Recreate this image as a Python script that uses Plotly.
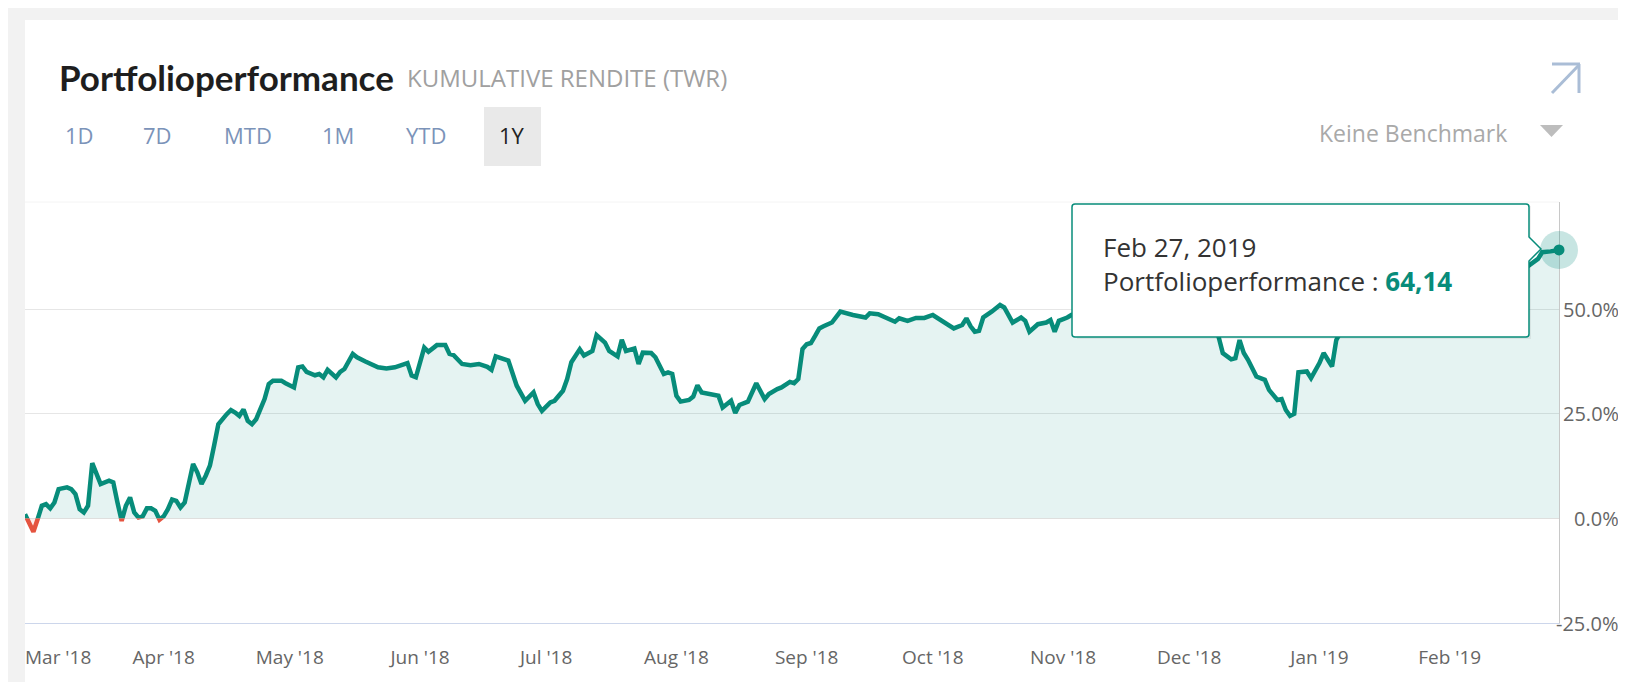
import plotly.graph_objects as go
from datetime import datetime

# ---------------- data ----------------
dates = [
    "2018-02-27", "2018-03-01", "2018-03-02", "2018-03-03", "2018-03-04", "2018-03-05", "2018-03-06",
    "2018-03-07", "2018-03-09", "2018-03-10", "2018-03-11", "2018-03-12", "2018-03-13", "2018-03-14",
    "2018-03-15", "2018-03-16", "2018-03-17", "2018-03-19", "2018-03-20", "2018-03-21", "2018-03-22",
    "2018-03-23", "2018-03-24", "2018-03-25", "2018-03-26", "2018-03-27", "2018-03-28", "2018-03-29",
    "2018-03-30", "2018-03-31", "2018-04-01", "2018-04-02", "2018-04-03", "2018-04-04", "2018-04-05",
    "2018-04-06", "2018-04-08", "2018-04-09", "2018-04-10", "2018-04-11", "2018-04-12", "2018-04-13",
    "2018-04-14", "2018-04-16", "2018-04-17", "2018-04-18", "2018-04-19", "2018-04-20", "2018-04-21",
    "2018-04-22", "2018-04-23", "2018-04-25", "2018-04-26", "2018-04-27", "2018-04-29", "2018-04-30",
    "2018-05-02", "2018-05-03", "2018-05-04", "2018-05-05", "2018-05-07", "2018-05-08", "2018-05-09",
    "2018-05-10", "2018-05-12", "2018-05-13", "2018-05-14", "2018-05-16", "2018-05-17", "2018-05-19",
    "2018-05-20", "2018-05-22", "2018-05-24", "2018-05-26", "2018-05-29", "2018-05-30", "2018-05-31",
    "2018-06-02", "2018-06-03", "2018-06-05", "2018-06-07", "2018-06-08", "2018-06-09", "2018-06-11",
    "2018-06-13", "2018-06-15", "2018-06-17", "2018-06-18", "2018-06-19", "2018-06-21", "2018-06-22",
    "2018-06-24", "2018-06-25", "2018-06-26", "2018-06-28", "2018-06-29", "2018-06-30", "2018-07-02",
    "2018-07-03", "2018-07-05", "2018-07-06", "2018-07-07", "2018-07-09", "2018-07-10", "2018-07-12",
    "2018-07-13", "2018-07-15", "2018-07-16", "2018-07-18", "2018-07-19", "2018-07-20", "2018-07-22",
    "2018-07-23", "2018-07-24", "2018-07-26", "2018-07-27", "2018-07-29", "2018-07-30", "2018-07-31",
    "2018-08-01", "2018-08-02", "2018-08-04", "2018-08-05", "2018-08-06", "2018-08-07", "2018-08-09",
    "2018-08-11", "2018-08-12", "2018-08-14", "2018-08-15", "2018-08-16", "2018-08-18", "2018-08-19",
    "2018-08-20", "2018-08-22", "2018-08-23", "2018-08-25", "2018-08-26", "2018-08-28", "2018-08-29",
    "2018-08-30", "2018-08-31", "2018-09-01", "2018-09-02", "2018-09-03", "2018-09-04", "2018-09-05",
    "2018-09-07", "2018-09-09", "2018-09-11", "2018-09-12", "2018-09-15", "2018-09-16", "2018-09-18",
    "2018-09-20", "2018-09-22", "2018-09-23", "2018-09-25", "2018-09-27", "2018-09-29", "2018-10-01",
    "2018-10-02", "2018-10-04", "2018-10-06", "2018-10-08", "2018-10-09", "2018-10-10", "2018-10-11",
    "2018-10-12", "2018-10-13", "2018-10-15", "2018-10-17", "2018-10-18", "2018-10-19", "2018-10-20",
    "2018-10-22", "2018-10-23", "2018-10-24", "2018-10-26", "2018-10-28", "2018-10-29", "2018-10-30",
    "2018-10-31", "2018-11-02", "2018-11-03", "2018-11-05", "2018-11-08", "2018-11-11", "2018-11-14",
    "2018-11-17", "2018-11-20", "2018-11-23", "2018-11-26", "2018-11-29", "2018-12-02", "2018-12-05",
    "2018-12-07", "2018-12-08", "2018-12-09", "2018-12-11", "2018-12-12", "2018-12-13", "2018-12-14",
    "2018-12-15", "2018-12-17", "2018-12-19", "2018-12-20", "2018-12-22", "2018-12-23", "2018-12-24",
    "2018-12-25", "2018-12-26", "2018-12-27", "2018-12-29", "2018-12-30", "2019-01-01", "2019-01-02",
    "2019-01-04", "2019-01-05", "2019-01-06", "2019-01-08", "2019-01-11", "2019-01-14", "2019-01-17",
    "2019-01-20", "2019-01-23", "2019-01-26", "2019-01-29", "2019-02-01", "2019-02-04", "2019-02-07",
    "2019-02-10", "2019-02-13", "2019-02-16", "2019-02-19", "2019-02-22", "2019-02-23", "2019-02-25",
    "2019-02-27",
]
values = [
    1.0, -3.2, -0.2, 3.0, 3.4, 2.4, 3.8,
    7.0, 7.4, 7.0, 5.8, 2.2, 1.4, 3.0,
    13.2, 11.0, 8.2, 9.0, 8.6, 3.8, -0.6,
    3.0, 5.0, 1.4, 0.2, 0.5, 2.4, 2.4,
    1.8, -0.3, 0.5, 2.2, 4.5, 4.2, 2.6,
    3.8, 13.0, 11.0, 8.2, 10.2, 12.6, 17.4,
    22.5, 24.9, 25.9, 25.3, 24.5, 26.0, 23.3,
    22.5, 23.7, 28.5, 32.1, 32.9, 32.9, 32.3,
    31.3, 36.1, 36.3, 35.0, 34.2, 34.5, 33.7,
    35.5, 33.7, 35.0, 35.7, 39.3, 38.5, 37.5,
    37.1, 36.1, 35.8, 36.1, 37.1, 34.1, 33.7,
    40.8, 39.8, 41.4, 41.4, 39.3, 39.0, 36.9,
    36.6, 36.9, 36.2, 35.5, 38.7, 38.1, 37.7,
    31.7, 29.7, 28.1, 30.1, 27.3, 25.7, 27.7,
    28.1, 30.5, 33.3, 37.3, 40.4, 38.9, 40.0,
    43.8, 42.0, 40.0, 38.7, 42.7, 40.0, 40.6,
    36.9, 39.6, 39.5, 38.5, 34.5, 34.9, 34.5,
    29.3, 27.9, 28.3, 29.1, 31.8, 30.1, 29.7,
    29.3, 26.5, 28.1, 25.2, 27.1, 27.9, 30.1,
    32.3, 28.5, 29.7, 30.9, 31.3, 32.6, 32.3,
    33.3, 40.5, 41.6, 41.9, 43.6, 45.4, 45.9,
    46.8, 49.4, 48.8, 48.6, 48.0, 49.0, 48.8,
    48.0, 47.0, 47.8, 47.2, 47.9, 47.9, 48.6,
    48.0, 46.8, 45.4, 46.2, 47.8, 45.9, 44.6,
    44.8, 48.0, 49.4, 51.0, 50.4, 48.4, 46.8,
    48.0, 47.2, 44.6, 46.4, 46.8, 47.4, 44.6,
    47.2, 48.0, 48.6, 49.0, 50.5, 49.2, 48.0,
    50.0, 51.5, 50.2, 48.5, 49.8, 50.6, 47.5,
    45.5, 43.4, 39.5, 38.0, 38.3, 42.6, 39.5,
    37.9, 33.9, 33.1, 30.7, 28.3, 28.5, 25.9,
    24.5, 25.0, 34.9, 35.1, 33.5, 37.1, 39.5,
    36.3, 42.6, 44.5, 46.5, 48.0, 47.0, 50.0,
    51.5, 50.5, 53.0, 54.5, 53.5, 56.0, 57.5,
    57.0, 59.0, 60.5, 59.8, 62.0, 63.6, 63.8,
    64.14,
]
month_ticks = ["2018-03-01", "2018-04-01", "2018-05-01", "2018-06-01", "2018-07-01", "2018-08-01",
               "2018-09-01", "2018-10-01", "2018-11-01", "2018-12-01", "2019-01-01", "2019-02-01"]
y_ticks = [-25, 0, 25, 50]
range_buttons = ["1D", "7D", "MTD", "1M", "YTD", "1Y"]
active_button = "1Y"
title_text = "Portfolioperformance"
subtitle_text = "KUMULATIVE RENDITE (TWR)"
benchmark_text = "Keine Benchmark"
series_name = "Portfolioperformance"

# ---------------- layout geometry / style ----------------
W, H = 1626, 682
OFF = 8                      # page (body) offset of the figure
PL, PR, PT, PB = 25, 1559, 202, 623   # desired plot box on the page
L, R, T, B = PL - OFF, W + OFF - PR, PT - OFF, H + OFF - PB
Y_MIN, Y_MAX = -25, 75.6
split = (0 - Y_MIN) / (Y_MAX - Y_MIN)
FONT = "Open Sans"
TITLE_FONT = "Lato"
TEAL = "#078c7a"
RED = "#e5533f"


def px(x):
    return (x - PL) / (PR - PL)


def py(y):
    return (PB - y) / (PB - PT)


tick_text = [datetime.strptime(d, "%Y-%m-%d").strftime("%b '%y") for d in month_ticks]

fig = go.Figure()

fig.add_trace(go.Scatter(x=[dates[0], dates[-1]], y=[None, None], xaxis="x", yaxis="y",
                         mode="lines", showlegend=False, hoverinfo="skip"))
fig.add_trace(go.Scatter(x=dates, y=values, xaxis="x2", yaxis="y2", mode="lines",
                         line=dict(color=TEAL, width=4.5), fill="tozeroy",
                         fillcolor="rgba(0,137,123,0.10)", showlegend=False, hoverinfo="skip"))
fig.add_trace(go.Scatter(x=dates, y=values, xaxis="x3", yaxis="y3", mode="lines",
                         line=dict(color=RED, width=4.5), fill="tozeroy",
                         fillcolor="rgba(229,83,63,0.10)", showlegend=False, hoverinfo="skip"))
fig.add_trace(go.Scatter(x=[dates[-1]], y=[values[-1]], xaxis="x2", yaxis="y2", mode="markers",
                         marker=dict(size=38, color="rgba(0,137,123,0.22)"), cliponaxis=False,
                         showlegend=False, hoverinfo="skip"))
fig.add_trace(go.Scatter(x=[dates[-1]], y=[values[-1]], xaxis="x2", yaxis="y2", mode="markers",
                         marker=dict(size=11, color=TEAL), cliponaxis=False,
                         showlegend=False, hoverinfo="skip"))

xr = [dates[0], dates[-1]]
fig.update_layout(
    width=W, height=H, autosize=False,
    margin=dict(l=L, r=R, t=T, b=B, pad=0, autoexpand=False),
    paper_bgcolor="white", plot_bgcolor="rgba(0,0,0,0)",
    hovermode=False, showlegend=False,
    font=dict(family=FONT, color="#666"),
    # first month label is justified inside the plot (drawn as annotation below)
    xaxis=dict(domain=[0, 1], range=xr, type="date", tickvals=month_ticks[1:], ticktext=tick_text[1:],
               showgrid=False, zeroline=False, showline=True, linecolor="#ccd6eb", linewidth=1,
               ticks="outside", ticklen=17, tickcolor="rgba(0,0,0,0)", automargin=False,
               tickfont=dict(family=FONT, size=19, color="#666"), anchor="y"),
    yaxis=dict(domain=[0, 1], range=[Y_MIN, Y_MAX], side="right", tickvals=y_ticks,
               showticklabels=False, showgrid=True, gridcolor="#e6e6e6", gridwidth=1, automargin=False,
               zeroline=False, showline=True, linecolor="#c8c8c8", linewidth=1, ticks="", anchor="x"),
    xaxis2=dict(domain=[0, 1], range=xr, type="date", visible=False, anchor="y2", automargin=False),
    yaxis2=dict(domain=[split, 1], range=[0, Y_MAX], visible=False, anchor="x2", automargin=False),
    xaxis3=dict(domain=[0, 1], range=xr, type="date", visible=False, anchor="y3", automargin=False),
    yaxis3=dict(domain=[0, split], range=[Y_MIN, 0], visible=False, anchor="x3", automargin=False),
)

shapes = []
shapes.append(dict(type="rect", xref="paper", yref="paper", x0=px(7), x1=px(W + 20), y0=py(7), y1=py(H + 20),
                   fillcolor="#f2f2f2", line=dict(width=0), layer="below"))
shapes.append(dict(type="rect", xref="paper", yref="paper", x0=px(25), x1=px(W + 20), y0=py(20), y1=py(H + 20),
                   fillcolor="white", line=dict(width=0), layer="below"))
shapes.append(dict(type="line", xref="paper", yref="paper", x0=0, x1=1, y0=1, y1=1,
                   line=dict(color="#f4f4f4", width=1), layer="below"))
shapes.append(dict(type="rect", xref="paper", yref="paper", x0=px(484), x1=px(541), y0=py(107), y1=py(166),
                   fillcolor="#e9e9e9", line=dict(width=0), layer="below"))
for (a, b, c, d) in [(1552, 64, 1580, 64), (1579, 64, 1579, 93), (1552, 93, 1579, 65)]:
    shapes.append(dict(type="line", xref="paper", yref="paper", x0=px(a), y0=py(b), x1=px(c), y1=py(d),
                       line=dict(color="#aabdd6", width=3)))
tri = "M {},{} L {},{} L {},{} Z".format(px(1540), py(125), px(1563), py(125), px(1551.5), py(137))
shapes.append(dict(type="path", xref="paper", yref="paper", path=tri, fillcolor="#bdbdbd",
                   line=dict(width=0)))

callout = ("M -484,46 L -33,46 Q -30,46 -30,43 L -30,13 L -18,1 L -30,-11 L -30,-84 "
           "Q -30,-87 -33,-87 L -484,-87 Q -487,-87 -487,-84 L -487,43 Q -487,46 -484,46 Z")
shadow = ("M -482,44 L -28,44 L -28,-89 L -482,-89 Z")
common = dict(xref="x2", yref="y2", xsizemode="pixel", ysizemode="pixel",
              xanchor=dates[-1], yanchor=values[-1])
shapes.append(dict(type="path", path=shadow, fillcolor="rgba(0,0,0,0.06)", line=dict(width=0), **common))
shapes.append(dict(type="path", path=callout, fillcolor="white", line=dict(color=TEAL, width=1.5), **common))

fig.update_layout(shapes=shapes)

ann = []
# first x tick label, justified to the left edge of the plot
ann.append(dict(xref="paper", yref="paper", x=0, y=py(657), xanchor="left", yanchor="middle",
                xshift=-2, text=tick_text[0], showarrow=False,
                font=dict(family=FONT, size=19, color="#666")))
ann.append(dict(xref="paper", yref="paper", x=px(57), y=py(77), xanchor="left", yanchor="middle",
                text="<b>" + title_text + "</b>", showarrow=False,
                font=dict(family=TITLE_FONT, size=35, color="#1e1e1e")))
ann.append(dict(xref="paper", yref="paper", x=px(405), y=py(78), xanchor="left", yanchor="middle",
                text=subtitle_text, showarrow=False, font=dict(family=FONT, size=24, color="#a0a0a0")))
btn_x = [79, 157, 248, 338, 426, 512]
for lbl, bx in zip(range_buttons, btn_x):
    ann.append(dict(xref="paper", yref="paper", x=px(bx), y=py(135), xanchor="center", yanchor="middle",
                    text=lbl, showarrow=False,
                    font=dict(family=FONT, size=22,
                              color="#222222" if lbl == active_button else "#7b93b9")))
ann.append(dict(xref="paper", yref="paper", x=px(1509), y=py(133), xanchor="right", yanchor="middle",
                text=benchmark_text, showarrow=False, font=dict(family=FONT, size=23, color="#a9a9a9")))
for v in y_ticks:
    ann.append(dict(xref="paper", yref="y", x=px(1621), y=v, xanchor="right", yanchor="middle",
                    text="{:.1f}%".format(v), showarrow=False,
                    font=dict(family=FONT, size=20, color="#666")))
last_date = datetime.strptime(dates[-1], "%Y-%m-%d")
date_label = last_date.strftime("%b ") + str(last_date.day) + last_date.strftime(", %Y")
val_label = "{:.2f}".format(values[-1]).replace(".", ",")
ann.append(dict(xref="x2", yref="y2", x=dates[-1], y=values[-1], xanchor="left", yanchor="middle",
                align="left", xshift=-458, yshift=-14,
                text=date_label + "<br>" + series_name + ' : <b><span style="color:' + TEAL + '">'
                + val_label + "</span></b>",
                showarrow=False, font=dict(family=FONT, size=26, color="#333")))
fig.update_layout(annotations=ann)

fig.write_html("out.html")
